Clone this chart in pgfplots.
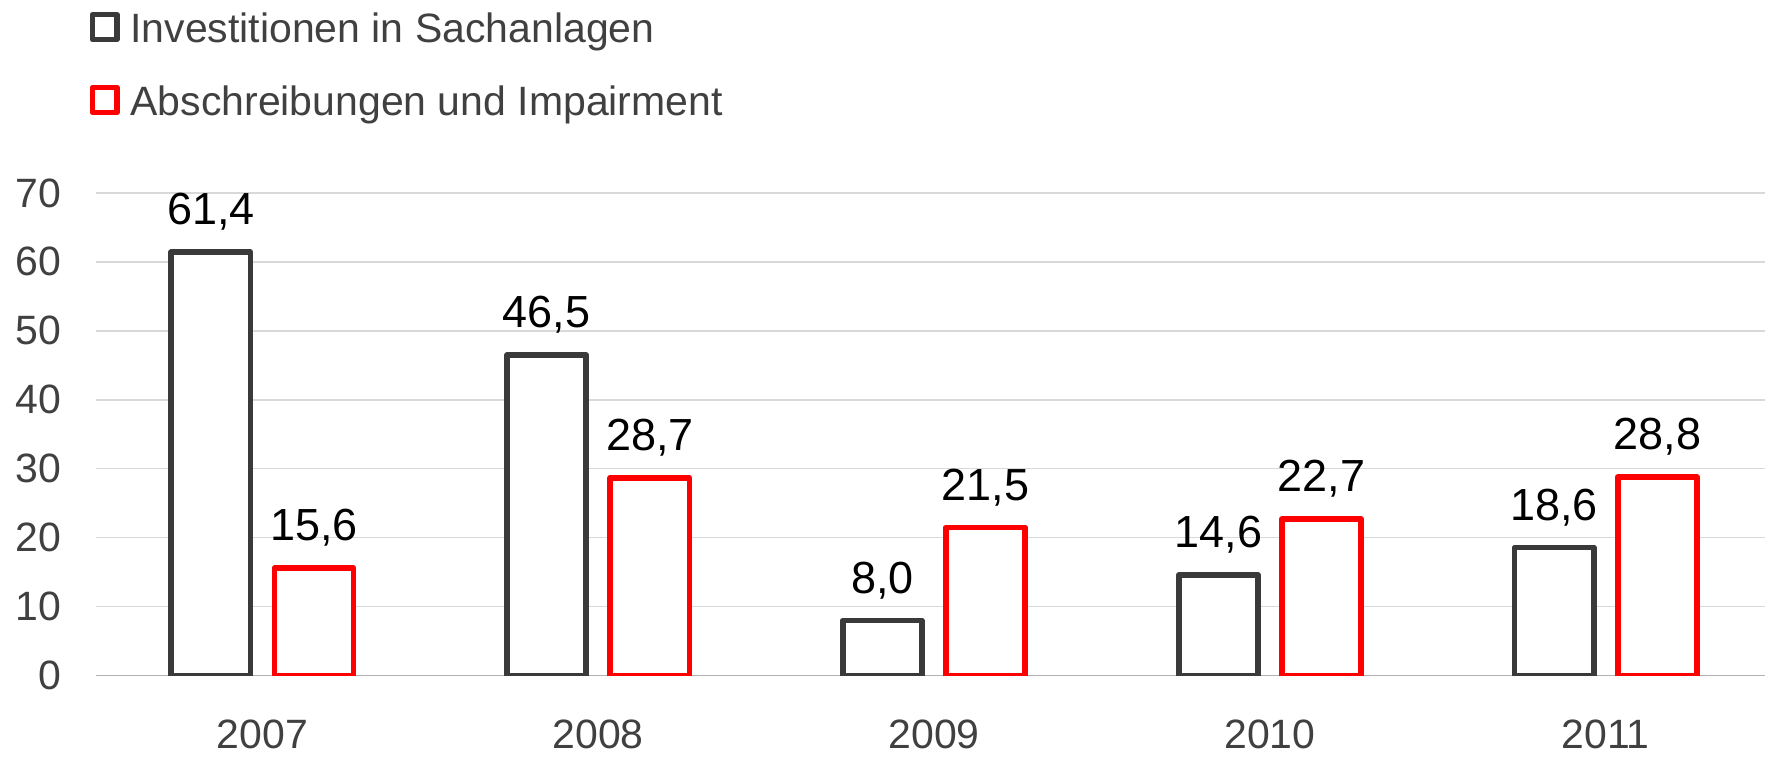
\documentclass[border=0pt]{standalone}
\usepackage{pgfplots}
\pgfplotsset{compat=1.18}
\usepackage{fontspec}
\setmainfont{Liberation Sans}
\definecolor{dk}{HTML}{3A3A3A}
\definecolor{rd}{HTML}{FF0000}
\definecolor{grd}{HTML}{D9D9D9}
\definecolor{txt}{HTML}{404040}
\begin{document}
\begin{tikzpicture}
\begin{axis}[
  name=ax,
  scale only axis,
  width=835pt, height=241.5pt,
  xmin=-0.4955, xmax=4.475,
  ymin=0, ymax=70,
  ytick={0,10,...,70},
  xtick={0,1,2,3,4},
  xticklabels={2007,2008,2009,2010,2011},
  axis x line*=bottom, axis y line*=left,
  y axis line style={draw=none},
  x axis line style={draw=black!30, line width=0.8pt},
  ymajorgrids, grid style={grd, line width=0.7pt},
  major tick length=0pt,
  tick style={draw=none},
  ticklabel style={font=\fontsize{20.5}{24}\selectfont, text=txt},
  xticklabel style={anchor=north, inner sep=0pt, yshift=-22pt},
  yticklabel style={anchor=east, inner sep=0pt, xshift=-17pt},
  /pgf/number format/assume math mode=true,
  ybar, bar width=39.6pt,
  nodes near coords={\pgfmathprintnumber[fixed, fixed zerofill, precision=1, use comma]{\pgfplotspointmeta}},
  every node near coord/.append style={font=\fontsize{22.5}{26}\selectfont, text=black, anchor=base, inner sep=0pt, yshift=13.7pt},
  sqleg/.style={legend image code/.code={\draw[##1, line width=2.6pt, fill=white, line join=round] (1.3pt,1.6pt) rectangle (13.7pt,14pt); \path (19pt,0pt);}},
  legend style={at={(axis description cs:-0.004,1.3754)}, anchor=north west, draw=none, fill=none, inner sep=0pt, font=\fontsize{20.5}{24}\selectfont, text=txt, row sep=19.6pt, cells={anchor=base west}, nodes={inner sep=0pt}},
]
\addplot[draw=dk, fill=white, line width=2.8pt, line join=round, bar shift=-25.8pt, sqleg] coordinates {(0,61.4) (1,46.5) (2,8.0) (3,14.6) (4,18.6)};
\addplot[draw=rd, fill=white, line width=2.8pt, line join=round, bar shift=25.8pt, sqleg] coordinates {(0,15.6) (1,28.7) (2,21.5) (3,22.7) (4,28.8)};
\legend{Investitionen in Sachanlagen, Abschreibungen und Impairment}
\end{axis}
\path ([xshift=-48pt,yshift=-40.5pt]ax.south west) rectangle ([yshift=96.5pt]ax.north east);
\end{tikzpicture}
\end{document}
